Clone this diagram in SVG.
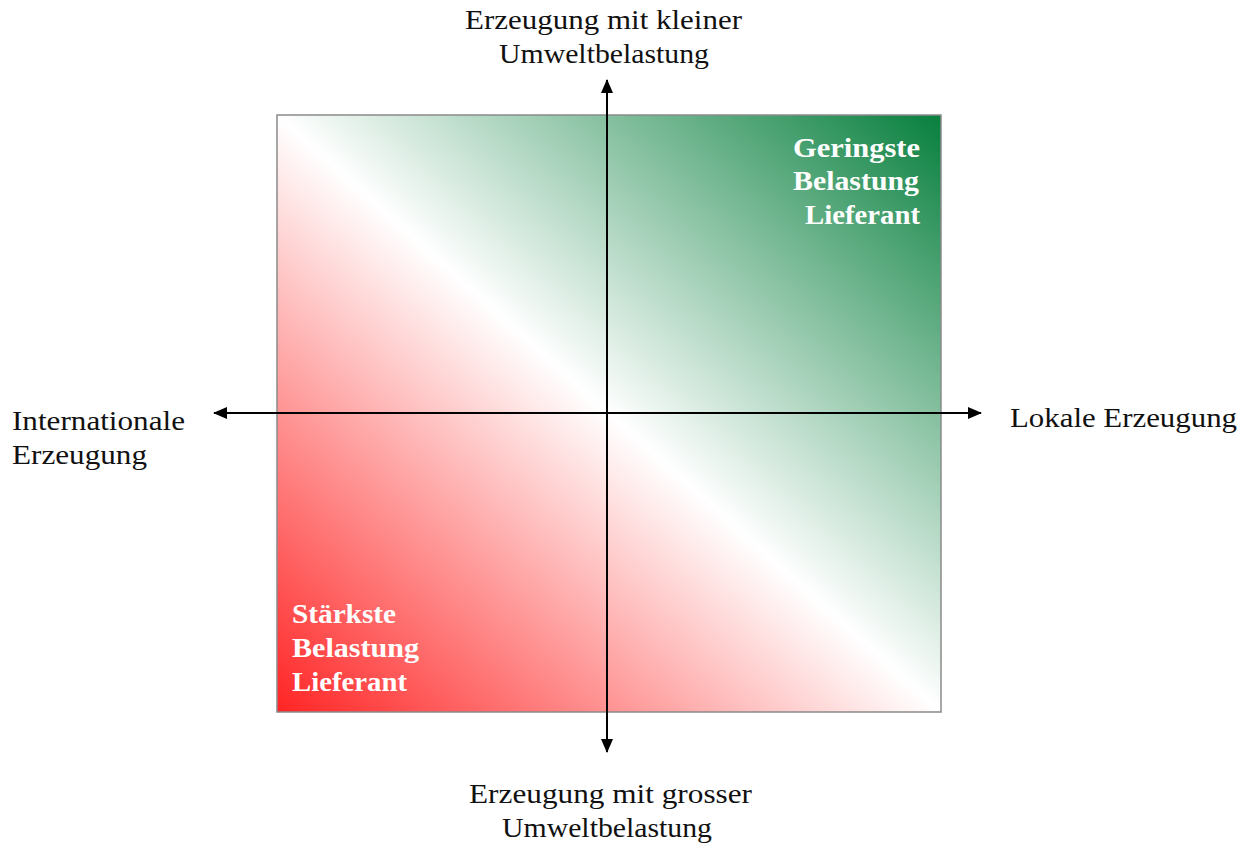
<svg xmlns="http://www.w3.org/2000/svg" width="1255" height="845" viewBox="0 0 1255 845">
  <style>
    .lbl { font-family: "Liberation Serif", "Times New Roman", serif; font-size: 28px; fill: #111; }
    .tag { font-family: "Liberation Serif", "Times New Roman", serif; font-size: 28px; font-weight: bold; fill: #fff; }
    .axis { stroke: #000; stroke-width: 2; fill: none; }
  </style>
  <defs>
    <!-- red (bottom-left) to white (diagonal) to green (top-right) -->
    <linearGradient id="field" x1="0" y1="1" x2="1" y2="0">
      <stop offset="0" stop-color="#ff2424"/>
      <stop offset="0.5" stop-color="#ffffff"/>
      <stop offset="1" stop-color="#077f3d"/>
    </linearGradient>
    <marker id="arrow" viewBox="0 0 14 12" refX="13" refY="6" markerWidth="14" markerHeight="12" markerUnits="userSpaceOnUse" orient="auto">
      <path d="M0,0 L14,6 L0,12 z" fill="#000"/>
    </marker>
  </defs>

  <g id="field-box">
    <rect x="277" y="115" width="664" height="597" fill="url(#field)" stroke="#8a8a8a" stroke-width="1.5"/>
  </g>

  <g id="connectors">
    <line class="axis" x1="607" y1="752" x2="607" y2="80" marker-end="url(#arrow)"/>
    <line class="axis" x1="607" y1="80" x2="607" y2="752" marker-end="url(#arrow)"/>
    <line class="axis" x1="980" y1="413" x2="214" y2="413" marker-end="url(#arrow)"/>
    <line class="axis" x1="214" y1="413" x2="981" y2="413" marker-end="url(#arrow)"/>
  </g>

  <g id="label-top">
    <text class="lbl" x="465" y="29" textLength="277" lengthAdjust="spacingAndGlyphs">Erzeugung mit kleiner</text>
    <text class="lbl" x="499" y="63" textLength="210" lengthAdjust="spacingAndGlyphs">Umweltbelastung</text>
  </g>

  <g id="label-bottom">
    <text class="lbl" x="469" y="803" textLength="283" lengthAdjust="spacingAndGlyphs">Erzeugung mit grosser</text>
    <text class="lbl" x="502" y="837" textLength="210" lengthAdjust="spacingAndGlyphs">Umweltbelastung</text>
  </g>

  <g id="label-left">
    <text class="lbl" x="12" y="430" textLength="173" lengthAdjust="spacingAndGlyphs">Internationale</text>
    <text class="lbl" x="12" y="464" textLength="135" lengthAdjust="spacingAndGlyphs">Erzeugung</text>
  </g>

  <g id="label-right">
    <text class="lbl" x="1010" y="427" textLength="227" lengthAdjust="spacingAndGlyphs">Lokale Erzeugung</text>
  </g>

  <g id="tag-low">
    <text class="tag" x="793" y="157" textLength="127" lengthAdjust="spacingAndGlyphs">Geringste</text>
    <text class="tag" x="793" y="190" textLength="126" lengthAdjust="spacingAndGlyphs">Belastung</text>
    <text class="tag" x="805" y="224" textLength="115" lengthAdjust="spacingAndGlyphs">Lieferant</text>
  </g>

  <g id="tag-high">
    <text class="tag" x="292" y="623" textLength="104" lengthAdjust="spacingAndGlyphs">Stärkste</text>
    <text class="tag" x="292" y="657" textLength="127" lengthAdjust="spacingAndGlyphs">Belastung</text>
    <text class="tag" x="292" y="691" textLength="115" lengthAdjust="spacingAndGlyphs">Lieferant</text>
  </g>
</svg>
